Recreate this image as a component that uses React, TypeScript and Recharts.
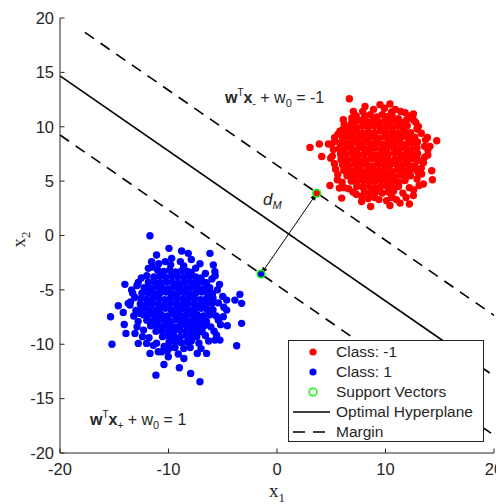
import React from 'react'
import { Legend, ReferenceDot, ReferenceLine, Scatter, ScatterChart, XAxis, YAxis } from 'recharts'

const FONT = '"Liberation Sans", Arial, Helvetica, sans-serif'
const SERIF = '"Liberation Serif", "Times New Roman", serif'
const INK = '#262626'

const xTicks = [-20, -10, 0, 10, 20]
const yTicks = [-20, -15, -10, -5, 0, 5, 10, 15, 20]

// class -1 (red), dense core read row by row, then the ragged edge and stragglers
const redCore: [number, number][] = [
  [8.1, 11.0], [8.6, 11.1], [9.2, 10.9], [9.7, 11.1], [10.2, 10.95], [10.6, 11.05],
  [7.3, 10.5], [7.8, 10.6], [8.35, 10.45], [8.9, 10.55], [9.45, 10.4], [10.0, 10.6], [10.5, 10.45], [11.0, 10.55], [11.45, 10.4],
  [6.8, 10.0], [7.3, 9.9], [7.85, 10.05], [8.4, 9.95], [8.95, 10.1], [9.5, 9.95], [10.05, 10.05], [10.6, 9.9], [11.1, 10.05], [11.6, 9.95], [12.0, 10.1],
  [6.3, 9.5], [6.8, 9.45], [7.35, 9.55], [7.9, 9.4], [8.45, 9.5], [9.0, 9.45], [9.55, 9.6], [10.1, 9.45], [10.65, 9.5], [11.2, 9.4], [11.75, 9.55], [12.3, 9.45],
  [6.05, 9.0], [6.6, 9.05], [7.15, 8.95], [7.7, 9.05], [8.25, 8.9], [8.8, 9.05], [9.35, 8.95], [9.9, 9.05], [10.45, 8.95], [11.0, 9.0], [11.55, 9.1], [12.1, 8.95], [12.7, 9.05],
  [5.85, 8.5], [6.4, 8.45], [6.95, 8.55], [7.5, 8.45], [8.05, 8.55], [8.6, 8.45], [9.15, 8.5], [9.7, 8.4], [10.25, 8.55], [10.8, 8.45], [11.35, 8.55], [11.9, 8.4], [12.45, 8.5], [12.95, 8.6],
  [5.75, 8.0], [6.3, 7.95], [6.85, 8.05], [7.4, 7.9], [7.95, 8.05], [8.5, 7.95], [9.05, 8.05], [9.6, 7.9], [10.15, 8.0], [10.7, 8.1], [11.25, 7.95], [11.8, 8.05], [12.35, 7.9], [12.9, 8.05],
  [5.85, 7.5], [6.4, 7.45], [6.95, 7.55], [7.5, 7.4], [8.05, 7.5], [8.6, 7.55], [9.15, 7.4], [9.7, 7.5], [10.25, 7.45], [10.8, 7.6], [11.35, 7.45], [11.9, 7.5], [12.45, 7.4], [12.95, 7.55],
  [5.9, 7.0], [6.45, 6.95], [7.0, 7.05], [7.55, 6.9], [8.1, 7.0], [8.65, 7.05], [9.2, 6.95], [9.75, 7.05], [10.3, 6.9], [10.85, 7.0], [11.4, 7.05], [11.95, 6.95], [12.5, 7.05], [13.0, 6.9],
  [6.05, 6.5], [6.6, 6.45], [7.15, 6.55], [7.7, 6.45], [8.25, 6.5], [8.8, 6.4], [9.35, 6.55], [9.9, 6.45], [10.45, 6.5], [11.0, 6.55], [11.55, 6.45], [12.1, 6.5], [12.7, 6.4],
  [6.15, 6.0], [6.7, 5.95], [7.25, 6.05], [7.8, 5.9], [8.35, 6.0], [8.9, 6.05], [9.45, 5.95], [10.0, 6.0], [10.55, 5.9], [11.1, 6.05], [11.65, 5.95], [12.2, 6.0], [12.6, 6.1],
  [6.45, 5.5], [7.0, 5.45], [7.55, 5.55], [8.1, 5.4], [8.65, 5.5], [9.2, 5.55], [9.75, 5.45], [10.3, 5.5], [10.85, 5.4], [11.4, 5.55], [11.95, 5.45], [12.3, 5.5],
  [6.85, 5.0], [7.4, 4.95], [7.95, 5.05], [8.5, 4.9], [9.05, 5.0], [9.6, 5.05], [10.15, 4.95], [10.7, 5.0], [11.25, 4.9], [11.8, 5.05],
  [7.35, 4.5], [7.9, 4.45], [8.45, 4.55], [9.0, 4.4], [9.55, 4.5], [10.1, 4.55], [10.65, 4.45], [11.2, 4.5],
  [8.05, 4.0], [8.6, 3.95], [9.15, 4.05], [9.7, 3.9], [10.25, 4.0], [10.75, 4.1],
]

const redOuter: [number, number][] = [
  [5.3, 9.0], [5.2, 7.9], [5.3, 6.6], [5.6, 5.6], [6.0, 4.9], [6.6, 4.3], [7.3, 3.8], [8.4, 3.4], [9.4, 3.3], [10.6, 3.5],
  [11.6, 3.9], [12.2, 4.4], [12.9, 5.2], [13.3, 6.2], [13.6, 7.2], [13.6, 8.2], [13.3, 9.4], [12.8, 10.4], [12.2, 11.0], [11.4, 11.4],
  [7.3, 11.0], [6.6, 10.0], [5.8, 9.6],
  [5.0, 8.4], [5.1, 7.3], [5.4, 6.1], [6.2, 4.4], [7.0, 4.0], [7.8, 3.6], [9.0, 3.5], [10.1, 3.2], [11.0, 3.3], [11.9, 3.5],
  [12.6, 4.2], [13.1, 4.6], [13.0, 5.8], [13.5, 6.7], [13.9, 7.4], [14.1, 8.2], [13.7, 8.8], [12.9, 9.8], [12.6, 10.6], [11.8, 11.3],
  [10.9, 11.6], [9.9, 11.7], [8.9, 11.6], [7.9, 11.4], [6.9, 10.8], [6.2, 10.2], [5.6, 9.3],
  [6.67, 12.58], [3.04, 8.1], [3.9, 8.41], [4.73, 8.41], [4.12, 7.27], [4.95, 7.1], [4.88, 4.6], [5.75, 4.36], [5.96, 3.44], [5.56, 5.12],
  [7.8, 3.13], [8.63, 2.67], [10.41, 2.76], [11.34, 2.98], [12.2, 2.89], [10.57, 3.59], [12.57, 3.68], [13.49, 4.73], [14.32, 5.12],
  [14.26, 5.95], [13.33, 5.65], [13.9, 7.89], [14.72, 8.71], [13.86, 9.02], [13.03, 10.03], [12.87, 7.12], [12.57, 11.17], [11.95, 10.65],
  [11.18, 10.74], [10.57, 11.35], [10.41, 12.09], [9.49, 12.03], [8.11, 11.87], [7.04, 11.41], [6.11, 10.65], [6.88, 10.34], [6.05, 9.73],
  [5.35, 8.65], [3.66, 3.88],
]

// class 1 (blue)
const blueCore: [number, number][] = [
  [-10.45, -3.3], [-9.9, -3.2], [-9.35, -3.35], [-8.8, -3.25], [-8.25, -3.3], [-7.9, -3.4],
  [-11.35, -3.8], [-10.8, -3.75], [-10.25, -3.85], [-9.7, -3.7], [-9.15, -3.8], [-8.6, -3.85], [-8.05, -3.75], [-7.5, -3.8], [-7.0, -3.9],
  [-11.85, -4.3], [-11.3, -4.25], [-10.75, -4.35], [-10.2, -4.25], [-9.65, -4.3], [-9.1, -4.4], [-8.55, -4.25], [-8.0, -4.3], [-7.45, -4.35], [-6.9, -4.25], [-6.5, -4.35],
  [-12.25, -4.8], [-11.7, -4.85], [-11.15, -4.75], [-10.6, -4.8], [-10.05, -4.9], [-9.5, -4.75], [-8.95, -4.8], [-8.4, -4.85], [-7.85, -4.75], [-7.3, -4.8], [-6.75, -4.9], [-6.2, -4.8],
  [-12.45, -5.3], [-11.9, -5.25], [-11.35, -5.35], [-10.8, -5.3], [-10.25, -5.2], [-9.7, -5.35], [-9.15, -5.3], [-8.6, -5.25], [-8.05, -5.35], [-7.5, -5.3], [-6.95, -5.2], [-6.4, -5.3], [-5.95, -5.35],
  [-12.55, -5.8], [-12.0, -5.85], [-11.45, -5.75], [-10.9, -5.8], [-10.35, -5.9], [-9.8, -5.75], [-9.25, -5.8], [-8.7, -5.85], [-8.15, -5.75], [-7.6, -5.8], [-7.05, -5.9], [-6.5, -5.8], [-5.9, -5.75],
  [-12.6, -6.3], [-12.05, -6.35], [-11.5, -6.25], [-10.95, -6.3], [-10.4, -6.4], [-9.85, -6.25], [-9.3, -6.3], [-8.75, -6.35], [-8.2, -6.25], [-7.65, -6.3], [-7.1, -6.4], [-6.55, -6.3], [-6.0, -6.25],
  [-12.5, -6.8], [-11.95, -6.75], [-11.4, -6.85], [-10.85, -6.8], [-10.3, -6.7], [-9.75, -6.85], [-9.2, -6.8], [-8.65, -6.75], [-8.1, -6.85], [-7.55, -6.8], [-7.0, -6.7], [-6.45, -6.8], [-5.9, -6.85],
  [-12.3, -7.3], [-11.75, -7.25], [-11.2, -7.35], [-10.65, -7.3], [-10.1, -7.4], [-9.55, -7.25], [-9.0, -7.3], [-8.45, -7.35], [-7.9, -7.25], [-7.35, -7.3], [-6.8, -7.4], [-6.2, -7.3],
  [-12.0, -7.8], [-11.45, -7.85], [-10.9, -7.75], [-10.35, -7.8], [-9.8, -7.9], [-9.25, -7.75], [-8.7, -7.8], [-8.15, -7.85], [-7.6, -7.75], [-7.05, -7.8], [-6.5, -7.9],
  [-11.65, -8.3], [-11.1, -8.25], [-10.55, -8.35], [-10.0, -8.3], [-9.45, -8.4], [-8.9, -8.25], [-8.35, -8.3], [-7.8, -8.35], [-7.25, -8.25], [-6.7, -8.3],
  [-11.15, -8.8], [-10.6, -8.75], [-10.05, -8.85], [-9.5, -8.8], [-8.95, -8.7], [-8.4, -8.85], [-7.85, -8.8], [-7.3, -8.75], [-6.9, -8.85],
  [-10.55, -9.3], [-10.0, -9.25], [-9.45, -9.35], [-8.9, -9.3], [-8.35, -9.2], [-7.8, -9.35], [-7.4, -9.3],
  [-9.95, -9.8], [-9.4, -9.75], [-8.85, -9.85], [-8.3, -9.8], [-7.9, -9.7],
]

const blueOuter: [number, number][] = [
  [-12.9, -4.6], [-13.1, -5.7], [-13.0, -6.9], [-12.8, -7.9], [-12.3, -8.7], [-11.8, -9.4], [-11.1, -9.9], [-10.4, -10.2], [-9.4, -10.3],
  [-8.6, -10.4], [-7.2, -9.9], [-6.6, -9.2], [-6.1, -8.4], [-5.6, -7.4], [-5.4, -6.2], [-5.5, -5.0], [-6.0, -4.0], [-6.6, -3.5], [-7.5, -3.0],
  [-8.6, -2.8], [-9.8, -2.7], [-11.0, -3.2], [-12.0, -3.7], [-8.9, -2.4], [-10.9, -2.6],
  [-13.3, -5.3], [-13.5, -6.1], [-13.2, -7.4], [-12.9, -8.4], [-12.4, -9.3], [-11.4, -10.1], [-10.1, -10.6], [-9.1, -10.9], [-8.0, -10.3],
  [-7.0, -10.4], [-6.3, -9.7], [-5.8, -8.8], [-5.2, -8.2], [-4.9, -6.6], [-5.0, -5.6], [-5.3, -4.5], [-5.7, -3.7], [-7.1, -2.6], [-7.9, -2.2],
  [-10.3, -2.4], [-11.5, -2.9], [-12.5, -3.9],
  [-11.71, -0.02], [-9.96, -1.18], [-8.79, -1.43], [-8.18, -1.64], [-11.1, -1.79], [-9.71, -2.1], [-6.18, -1.64], [-5.87, -2.71], [-5.72, -3.33],
  [-11.56, -2.41], [-11.86, -3.02], [-14.02, -4.49], [-13.4, -5.0], [-12.79, -4.31], [-3.42, -5.41], [-4.64, -5.94], [-3.88, -5.94], [-3.26, -6.24],
  [-14.63, -6.46], [-13.71, -6.24], [-13.55, -6.4], [-14.17, -7.07], [-15.34, -7.47], [-12.69, -7.16], [-4.64, -6.86], [-4.95, -7.47], [-5.41, -7.78],
  [-3.26, -8.08], [-4.58, -8.3], [-14.08, -8.18], [-13.92, -9.0], [-13.09, -9.0], [-5.57, -9.16], [-5.26, -9.62], [-5.72, -9.62], [-15.21, -10.0],
  [-12.79, -9.92], [-12.02, -9.92], [-3.72, -10.14], [-11.71, -10.84], [-10.94, -10.69], [-10.63, -10.69], [-10.02, -11.15], [-10.42, -11.86],
  [-9.0, -12.16], [-8.58, -11.31], [-11.16, -12.84], [-7.96, -12.68], [-7.1, -13.45], [-7.35, -10.84], [-6.49, -10.84], [-9.87, -10.32],
  [-1.47, -3.54],
]

const supportVectors: [number, number][] = [[3.66, 3.88], [-1.47, -3.54]]

// w'x + w0 = 0 and the two margins, as y = slope * x + intercept over [from, to]
const hyperplane = { slope: -0.69, intercept: 0.88, from: -20, to: 19.6 }
const marginUpper = { slope: -0.69, intercept: 6.46, from: -17.7, to: 20 }
const marginLower = { slope: -0.69, intercept: -4.56, from: -20, to: 20 }

const legendItems = [
  { label: 'Class: -1', kind: 'dot', color: '#ff0000' },
  { label: 'Class: 1', kind: 'dot', color: '#0000ff' },
  { label: 'Support Vectors', kind: 'ring', color: '#00ff00' },
  { label: 'Optimal Hyperplane', kind: 'solid', color: '#000000' },
  { label: 'Margin', kind: 'dash', color: '#000000' },
]

const toPts = (arr: [number, number][]) => arr.map(([x, y]) => ({ x, y }))
const seg = (l: { slope: number; intercept: number; from: number; to: number }) => [
  { x: l.from, y: l.slope * l.from + l.intercept },
  { x: l.to, y: l.slope * l.to + l.intercept },
]

const dot = (color: string) => (p: any) => <circle cx={p.cx} cy={p.cy} r={3.7} fill={color} />
const ring = (p: any) => <circle cx={p.cx} cy={p.cy} r={3.8} fill="none" stroke="#00ff00" strokeWidth={1.5} />

const Arrow = (p: any) => {
  const { x1, y1, x2, y2 } = p
  const len = Math.hypot(x2 - x1, y2 - y1) || 1
  const ux = (x2 - x1) / len
  const uy = (y2 - y1) / len
  const head = (tx: number, ty: number, dx: number, dy: number) =>
    `${tx},${ty} ${tx - dx * 7 - dy * 2.8},${ty - dy * 7 + dx * 2.8} ${tx - dx * 7 + dy * 2.8},${ty - dy * 7 - dx * 2.8}`
  return (
    <g>
      <line x1={x1} y1={y1} x2={x2} y2={y2} stroke="#000" strokeWidth={1} />
      <polygon points={head(x2, y2, ux, uy)} fill="#000" />
      <polygon points={head(x1, y1, -ux, -uy)} fill="#000" />
    </g>
  )
}

const Eq = ({ cx, cy, sign, rhs }: { cx: number; cy: number; sign: string; rhs: string }) => (
  <text x={cx} y={cy} fontFamily={FONT} fontSize={16} fill={INK} style={{ whiteSpace: 'pre' }}>
    <tspan fontWeight="bold">w</tspan>
    <tspan fontSize={10} dy={-7}>T</tspan>
    <tspan fontWeight="bold" dy={7}>x</tspan>
    <tspan fontSize={10} dy={4}>{sign}</tspan>
    <tspan dy={-4}>{' + w'}</tspan>
    <tspan fontSize={11} dy={4}>0</tspan>
    <tspan dy={-4}>{` = ${rhs}`}</tspan>
  </text>
)

const LegendBox = () => (
  <div
    style={{
      width: 196,
      height: 102,
      boxSizing: 'border-box',
      border: `1px solid ${INK}`,
      background: '#fff',
      paddingTop: 1,
      fontFamily: FONT,
      fontSize: 15.5,
      color: INK,
    }}
  >
    {legendItems.map((it) => (
      <div key={it.label} style={{ display: 'flex', alignItems: 'center', height: 20 }}>
        <svg width={46} height={20} style={{ flex: 'none' }}>
          {it.kind === 'dot' && <circle cx={24} cy={10} r={3.6} fill={it.color} />}
          {it.kind === 'ring' && <circle cx={24} cy={10} r={3.8} fill="none" stroke={it.color} strokeWidth={1.5} />}
          {it.kind === 'solid' && <line x1={4} y1={10} x2={41} y2={10} stroke={it.color} strokeWidth={1.6} />}
          {it.kind === 'dash' && <line x1={4} y1={10} x2={41} y2={10} stroke={it.color} strokeWidth={1.6} strokeDasharray="12 8" />}
        </svg>
        <span style={{ marginLeft: 1, whiteSpace: 'nowrap' }}>{it.label}</span>
      </div>
    ))}
  </div>
)

const XLabel = (props: any) => {
  const vb = props.viewBox || { x: 52, y: 445, width: 434 }
  return (
    <text x={vb.x + vb.width / 2} y={vb.y + 44} textAnchor="middle" fontFamily={SERIF} fontSize={19} fill={INK}>
      x<tspan fontSize={13} dy={5}>1</tspan>
    </text>
  )
}

const YLabel = (props: any) => {
  const vb = props.viewBox || { x: 0, y: 10, width: 52, height: 435 }
  const cx = 17
  const cy = vb.y + vb.height / 2 + 4
  return (
    <text x={cx} y={cy} transform={`rotate(-90, ${cx}, ${cy})`} textAnchor="middle" fontFamily={SERIF} fontSize={19} fill={INK}>
      x<tspan fontSize={13} dy={5}>2</tspan>
    </text>
  )
}

const tickStyle = { fill: INK, fontSize: 16.5, fontFamily: FONT }

export default function App() {
  return (
    <ScatterChart width={496} height={496} margin={{ top: 10, right: 10, bottom: 0, left: 0 }}>
      <XAxis
        type="number"
        dataKey="x"
        domain={[-20, 20]}
        ticks={xTicks}
        allowDataOverflow
        height={51}
        tickSize={-4.5}
        tickMargin={15}
        tick={tickStyle}
        axisLine={{ stroke: INK }}
        tickLine={{ stroke: INK }}
        label={XLabel}
      />
      <YAxis
        type="number"
        dataKey="y"
        domain={[-20, 20]}
        ticks={yTicks}
        allowDataOverflow
        width={52}
        tickSize={-4.5}
        tickMargin={10.5}
        tick={tickStyle}
        axisLine={{ stroke: INK }}
        tickLine={{ stroke: INK }}
        label={YLabel}
      />
      <Scatter data={toPts([...redCore, ...redOuter])} shape={dot('#ff0000')} isAnimationActive={false} />
      <Scatter data={toPts([...blueCore, ...blueOuter])} shape={dot('#0000ff')} isAnimationActive={false} />
      <ReferenceLine segment={seg(hyperplane)} stroke="#000" strokeWidth={1.6} />
      <ReferenceLine segment={seg(marginUpper)} stroke="#000" strokeWidth={1.6} strokeDasharray="11 8" />
      <ReferenceLine segment={seg(marginLower)} stroke="#000" strokeWidth={1.6} strokeDasharray="11 8" />
      <ReferenceLine
        segment={[
          { x: supportVectors[1][0], y: supportVectors[1][1] },
          { x: supportVectors[0][0], y: supportVectors[0][1] },
        ]}
        shape={Arrow}
      />
      <Scatter data={toPts(supportVectors)} shape={ring} isAnimationActive={false} />
      <ReferenceDot x={-4.79} y={12.14} r={0} shape={(p: any) => <Eq cx={p.cx} cy={p.cy} sign="-" rhs="-1" />} />
      <ReferenceDot x={-17.24} y={-17.43} r={0} shape={(p: any) => <Eq cx={p.cx} cy={p.cy} sign="+" rhs="1" />} />
      <ReferenceDot
        x={-1.29}
        y={2.8}
        r={0}
        shape={(p: any) => (
          <text x={p.cx} y={p.cy} fontFamily={FONT} fontSize={17} fontStyle="italic" fill={INK}>
            d<tspan fontSize={11} dy={4}>M</tspan>
          </text>
        )}
      />
      <Legend
        layout="horizontal"
        verticalAlign="middle"
        align="center"
        content={LegendBox}
        wrapperStyle={{ left: 280, top: 332, width: 196, height: 102 }}
      />
    </ScatterChart>
  )
}
